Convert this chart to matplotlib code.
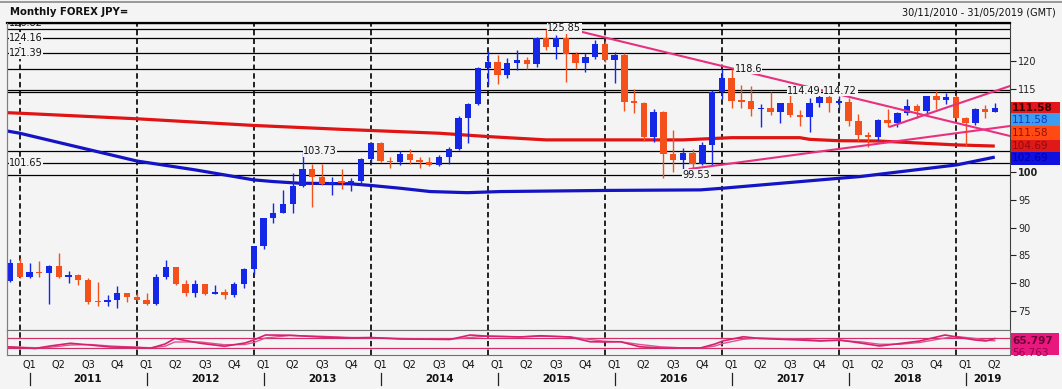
import matplotlib
matplotlib.use('Agg')
import matplotlib.pyplot as plt
import matplotlib.transforms as mtransforms
from matplotlib.patches import Rectangle
from matplotlib.lines import Line2D
import pandas as pd

plt.rcParams['font.family'] = ['DejaVu Sans']

# ---------------- data ----------------
months = [str(p) for p in pd.period_range('2010-11', '2019-04', freq='M')]

opens = [80.4, 83.7, 81.1, 82.0, 81.8, 83.1, 81.2, 81.5, 80.6, 76.7, 76.6, 77.0, 78.2, 77.6,
         76.9, 76.2, 81.2, 82.9, 79.8, 78.3, 79.8, 78.1, 78.4, 77.9, 79.8, 82.5,
         86.7, 91.7, 92.6, 94.2, 97.5, 100.5, 99.2, 97.9, 98.3, 98.1, 98.4, 102.4,
         105.3, 102.0, 101.8, 103.2, 102.2, 101.8, 101.3, 102.8, 104.1, 109.7, 112.3, 118.7,
         119.8, 117.5, 119.6, 120.2, 119.4, 124.1, 122.5, 124.1, 121.2, 119.7, 120.7, 123.1,
         120.2, 121.1, 112.7, 112.5, 106.4, 110.9, 103.3, 102.1, 103.4, 101.4, 104.9, 114.5,
         116.9, 112.8, 112.8, 111.4, 111.5, 110.8, 112.4, 110.3, 110.0, 112.5, 113.6, 112.5,
         112.7, 109.2, 106.7, 106.3, 109.3, 108.8, 110.7, 111.9, 111.0, 113.7, 112.9, 113.5,
         109.7, 108.9, 111.4, 110.9]
highs = [84.4, 84.5, 83.7, 84.0, 83.3, 85.5, 82.2, 81.7, 81.0, 80.2, 77.8, 79.5, 78.3, 78.3,
         78.3, 81.7, 84.2, 83.0, 80.6, 80.6, 79.9, 79.7, 78.9, 80.3, 82.8, 86.6,
         91.7, 94.5, 96.7, 99.9, 103.73, 101.5, 101.5, 99.1, 100.6, 99.0, 102.6, 105.4,
         105.4, 102.8, 103.8, 104.1, 102.8, 102.8, 103.1, 104.5, 110.1, 112.5, 119.0, 121.85,
         121.0, 120.5, 122.0, 120.8, 124.4, 125.85, 124.6, 125.3, 121.7, 121.5, 123.8, 123.6,
         121.7, 121.5, 114.9, 112.7, 111.4, 111.0, 107.5, 104.3, 104.1, 105.5, 114.8, 118.6,
         118.6, 115.6, 115.5, 112.2, 114.4, 112.4, 114.49, 111.1, 113.3, 114.45, 114.72, 113.75,
         113.4, 110.5, 107.3, 109.5, 111.4, 110.9, 113.2, 112.2, 113.7, 114.55, 114.2, 113.8,
         110.0, 111.5, 112.1, 112.4]
lows = [80.2, 80.9, 81.0, 81.2, 76.3, 81.0, 80.0, 79.7, 76.3, 75.9, 75.9, 75.6, 76.6, 76.8,
        76.0, 76.1, 80.8, 79.6, 77.7, 77.6, 77.8, 78.0, 77.1, 77.5, 79.1, 81.7,
        86.1, 90.8, 92.6, 92.6, 97.3, 93.8, 97.6, 95.8, 96.9, 96.6, 97.6, 101.6,
        101.8, 100.8, 101.2, 101.4, 100.8, 101.1, 101.1, 101.5, 104.0, 105.2, 112.0, 115.6,
        115.9, 116.9, 118.3, 118.5, 118.9, 122.0, 120.4, 116.2, 118.6, 118.1, 120.3, 119.9,
        116.0, 111.0, 110.7, 105.6, 105.5, 99.0, 100.0, 99.53, 100.1, 101.2, 101.2, 113.1,
        111.6, 111.6, 110.1, 108.1, 110.2, 108.8, 110.0, 108.3, 107.3, 111.7, 110.8, 111.4,
        108.3, 105.6, 104.6, 105.7, 108.1, 108.1, 110.3, 109.8, 110.4, 111.4, 112.3, 109.6,
        104.7, 108.5, 109.7, 110.8]
closes = [83.7, 81.1, 82.0, 81.8, 83.1, 81.2, 81.5, 80.6, 76.7, 76.6, 77.0, 78.2, 77.6, 76.9,
          76.2, 81.2, 82.9, 79.8, 78.3, 79.8, 78.1, 78.4, 77.9, 79.8, 82.5, 86.7,
          91.7, 92.6, 94.2, 97.5, 100.5, 99.2, 97.9, 98.2, 98.1, 98.4, 102.4, 105.3,
          102.0, 101.8, 103.2, 102.2, 101.8, 101.3, 102.8, 104.1, 109.7, 112.3, 118.7, 119.8,
          117.5, 119.6, 120.2, 119.4, 124.1, 122.5, 124.1, 121.2, 119.7, 120.7, 123.1, 120.2,
          121.1, 112.7, 112.5, 106.4, 110.9, 103.3, 102.1, 103.4, 101.4, 104.9, 114.5, 116.9,
          112.8, 112.7, 111.4, 111.5, 110.8, 112.4, 110.3, 110.0, 112.5, 113.6, 112.5, 112.7,
          109.2, 106.7, 106.3, 109.3, 108.8, 110.7, 111.9, 111.0, 113.7, 112.9, 113.5, 109.7,
          108.9, 111.4, 110.9, 111.58]

# moving averages (read at knots: month index, value)
red_ma_idx = [-0.3, 1, 13, 25, 34, 44, 49, 55, 69, 74, 81, 82, 85, 89, 97, 101]
red_ma_val = [110.7, 110.6, 109.6, 108.4, 107.7, 107.0, 106.4, 105.8, 105.8, 106.2, 106.2,
              105.9, 105.65, 105.6, 104.9, 104.69]
blue_ma_idx = [-0.3, 1, 7, 13, 19, 25, 27, 29.7, 34.9, 37, 40, 43.1, 46.9, 50.3, 61, 70.8,
               73.1, 85.1, 87.2, 97.1, 101]
blue_ma_val = [107.4, 107.0, 104.5, 102.0, 100.4, 98.6, 98.3, 98.0, 97.9, 97.6, 97.1, 96.5,
               96.3, 96.5, 96.7, 96.8, 97.1, 98.9, 99.2, 101.3, 102.7]

# trend lines (month index, price)
trend_down_idx, trend_down_val = [57.1, 102.56], [125.9, 106.5]
trend_up_long_idx, trend_up_long_val = [69.7, 102.56], [100.56, 108.3]
trend_up_short_idx, trend_up_short_val = [90.26, 102.56], [108.17, 115.5]

# RSI panel
rsi_idx = [-0.3, 1, 2.6, 4.1, 6.2, 8.2, 10.3, 13, 14.4, 15.9, 16.9, 19.5, 22, 24.1, 25, 26.2,
           28.7, 31.8, 34.9, 37, 40, 43.1, 45.1, 47.2, 49, 52.3, 54.4, 57.4, 59.5, 61, 62.6,
           64.6, 66.7, 68.7, 70.8, 72.3, 73.1, 75.2, 76.9, 81, 83.1, 85.1, 87.2, 89.2, 91.3,
           93.3, 95.9, 97.1, 99, 100.1, 101]
rsi_val = [33, 30, 26, 36, 47, 40, 32, 30, 27, 44, 66, 47, 35, 48, 60, 80, 79, 72, 68, 70, 64,
           63, 62, 80, 75, 72, 77, 72, 53, 52, 53, 33, 28, 28, 28, 44, 56, 73, 66, 60, 56, 60,
           48, 36, 46, 56, 80, 72, 60, 56, 65.8]
sig_val = [31, 31, 29, 31, 40, 42, 36, 31, 29, 35, 52, 52, 41, 42, 50, 68, 78, 75, 70, 69, 66,
           64, 63, 70, 76, 73, 75, 73, 62, 55, 53, 42, 33, 29, 28, 36, 46, 63, 68, 63, 58, 58,
           53, 43, 43, 50, 68, 74, 66, 59, 56.8]
rsi_levels = [70, 30]

# horizontal levels and labels (text, price, month index of label)
levels = [126.82, 125.85, 124.16, 121.39, 118.6, 114.72, 114.49, 103.73, 101.65, 99.53]
level_labels = [("124.16", 124.16, -0.1), ("121.39", 121.39, -0.1),
                ("101.65", 101.65, -0.1), ("103.73", 103.73, 30.05), ("125.85", 125.85, 55.1),
                ("118.6", 118.6, 74.3), ("114.49", 114.6, 79.7), ("114.72", 114.6, 83.4),
                ("99.53", 99.53, 69.0)]
top_label = ("126.82", 126.82, -0.1)

right_ticks = [75, 80, 85, 90, 95, 100, 115, 120]
title = "Monthly FOREX JPY="
date_range = "30/11/2010 - 31/05/2019 (GMT)"
last_close = "111.58"
last_red_ma = "104.69"
last_blue_ma = "102.69"
last_rsi = "65.797"
last_sig = "56.763"
years = list(range(2011, 2020))

# ---------------- style ----------------
W, H = 1062, 389
BG = '#f4f4f4'
UP = '#1426e6'
DN = '#f4501c'
PINK = '#e8307f'

fig = plt.figure(figsize=(W / 100, H / 100), dpi=100, facecolor=BG)

def rect(x0, y0, x1, y1):
    return [x0 / W, 1 - y1 / H, (x1 - x0) / W, (y1 - y0) / H]

ax = fig.add_axes(rect(7, 23, 1010, 330), facecolor=BG)
ax2 = fig.add_axes(rect(7, 330, 1010, 355), facecolor=BG, sharex=ax)
ov = fig.add_axes([0, 0, 1, 1])
ov.set_xlim(0, W)
ov.set_ylim(H, 0)
ov.axis('off')
ov.set_zorder(10)
ov.patch.set_alpha(0)

x = list(range(len(months)))
ax.set_xlim(-0.31, 102.56)
ax.set_ylim(71.58, 126.84)

# levels
for lv in levels:
    ax.axhline(lv, color='black', lw=0.9, zorder=1)

# dashed year separators (December candle)
for k in range(9):
    xv = 1 + 12 * k
    for a in (ax, ax2):
        a.axvline(xv, color='#111111', lw=1.3, ls=(0, (3, 1.8)), zorder=1.5)

# moving averages
ax.plot(red_ma_idx, red_ma_val, color='#e01414', lw=2.3, zorder=2.5, solid_capstyle='butt')
ax.plot(blue_ma_idx, blue_ma_val, color='#1414c4', lw=2.3, zorder=2.5, solid_capstyle='butt')

# candles
colors = [UP if c >= o else DN for o, c in zip(opens, closes)]
bottoms = [min(o, c) for o, c in zip(opens, closes)]
heights = [max(abs(c - o), 0.22) for o, c in zip(opens, closes)]
ax.vlines(x, lows, highs, colors=colors, lw=1.0, zorder=2.8)
ax.bar(x, heights, bottom=bottoms, width=0.66, color=colors, linewidth=0, zorder=3)

# trend lines
for xs, ys in ((trend_down_idx, trend_down_val), (trend_up_long_idx, trend_up_long_val),
               (trend_up_short_idx, trend_up_short_val)):
    ax.plot(xs, ys, color=PINK, lw=1.5, zorder=3.5)

# level labels
for txt, yv, xi in level_labels:
    ax.text(xi, yv, txt, fontsize=7, va='center', ha='left', color='#111111', zorder=4,
            bbox=dict(boxstyle='square,pad=0.05', fc=BG, ec='none'))
ax.text(top_label[2], top_label[1], top_label[0], fontsize=7, va='center', ha='left',
        color='#111111', zorder=4, clip_on=True)

# axes styling
ax.set_xticks([])
ax.yaxis.tick_right()
ax.set_yticks(right_ticks)
ax.set_yticklabels([str(t) for t in right_ticks])
ax.tick_params(axis='y', direction='out', length=4, width=0.8, labelsize=7, pad=2,
               colors='#222222')
for lab in ax.get_yticklabels():
    if lab.get_text() == '100':
        lab.set_fontweight('bold')
for s in ('left', 'bottom'):
    ax.spines[s].set_color('#808080')
    ax.spines[s].set_linewidth(0.8)
ax.spines['right'].set_color('#404040')
ax.spines['right'].set_linewidth(0.8)
ax.spines['top'].set_color('black')
ax.spines['top'].set_linewidth(1.6)

# RSI panel
ax2.set_ylim(0, 100)
for lv in rsi_levels:
    ax2.axhline(lv, color='#d0306a', lw=0.9, zorder=1)
ax2.plot(rsi_idx, sig_val, color='#e0508f', lw=1.0, zorder=2)
ax2.plot(rsi_idx, rsi_val, color='#d81f70', lw=1.2, zorder=2.2)
ax2.set_yticks([])
ax2.tick_params(axis='x', bottom=False, labelbottom=False)
for s in ax2.spines.values():
    s.set_color('#707070')
    s.set_linewidth(0.8)

# x-axis labels (month index horizontally, pixel rows vertically)
trans = mtransforms.blended_transform_factory(ax2.transData, ov.transData)
for y in years:
    jan = 2 + 12 * (y - 2011)
    nq = 4 if y < 2019 else 2
    for q in range(nq):
        ov.text(jan + 3 * q, 365, f"Q{q + 1}", transform=trans, fontsize=7, ha='center',
                va='center', color='#111111')
    ov.add_line(Line2D([jan, jan], [373, 385], transform=trans, color='#222222', lw=0.9))
    ypos = jan + 6 if y < 2019 else 100.2
    ov.text(ypos, 379, str(y), transform=trans, fontsize=7.4, fontweight='bold', ha='center',
            va='center', color='#111111')

# header
ov.plot([0, W], [1.5, 1.5], color='#8a8a8a', lw=1.2)
ov.plot([7, 7], [23, 355], color='#808080', lw=0.8)
ov.text(10, 12, title, fontsize=7.3, fontweight='bold', va='center', ha='left', color='#111111')
ov.text(1056, 12, date_range, fontsize=7, va='center', ha='right', color='#111111')

# right value boxes
boxes = [(101.7, 113.3, '#e3161c', last_close, '#3a0000', 'bold'),
         (113.3, 126.0, '#3c9cf0', last_close, '#1238c0', 'normal'),
         (126.0, 140.0, '#ff4a14', last_close, '#9a1000', 'normal'),
         (140.0, 151.7, '#e01818', last_red_ma, '#8e0c0c', 'normal'),
         (151.7, 165.0, '#1010e0', last_blue_ma, '#0000a8', 'normal')]
for y0, y1, fc, txt, tc, fw in boxes:
    ov.add_patch(Rectangle((1010.5, y0), 49, y1 - y0, fc=fc, ec='none'))
    ov.text(1012, (y0 + y1) / 2, txt, fontsize=7.6, fontweight=fw, color=tc, va='center',
            ha='left')

ov.add_patch(Rectangle((1010.5, 333), 48, 22, fc='#e8187e', ec='none'))
ov.text(1012, 340.5, last_rsi, fontsize=7.6, fontweight='bold', color='#6e0038', va='center',
        ha='left')
ov.text(1012, 353, last_sig, fontsize=7.6, color='#9a0048', va='center', ha='left',
        clip_on=True)

fig.savefig('out.png', dpi=100, facecolor=BG)
